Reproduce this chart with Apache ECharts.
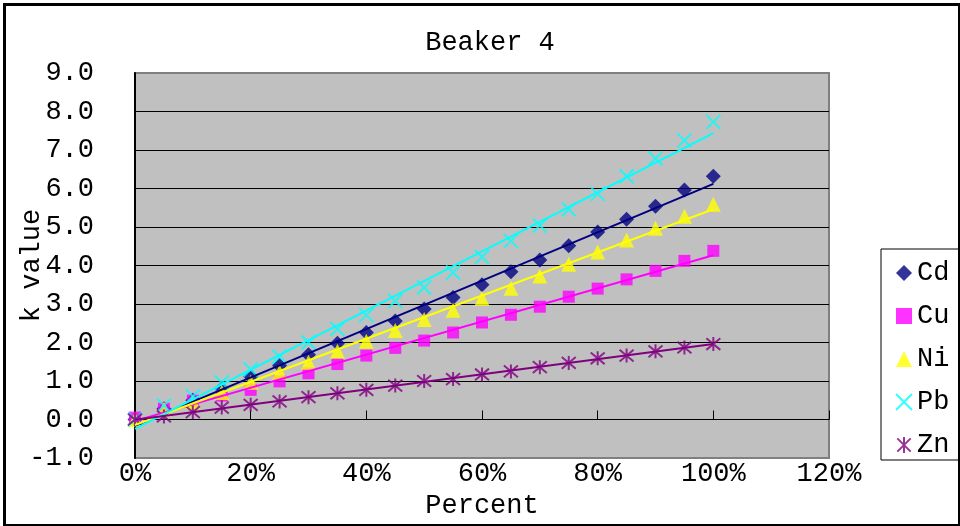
<!DOCTYPE html>
<html>
<head>
<meta charset="utf-8">
<script src="https://cdn.jsdelivr.net/npm/echarts@6/dist/echarts.min.js"></script>
<style>html,body{margin:0;padding:0;background:#fff;}#chart{width:960px;height:526px;}</style>
</head>
<body>
<div id="chart"></div>
<script>
// Data (x in fraction of 100%)
const percents = [0,0.05,0.10,0.15,0.20,0.25,0.30,0.35,0.40,0.45,0.50,0.55,0.60,0.65,0.70,0.75,0.80,0.85,0.90,0.95,1.00];
const cd = [0,0.28,0.50,0.80,1.12,1.40,1.68,1.98,2.26,2.56,2.87,3.17,3.50,3.84,4.14,4.51,4.87,5.20,5.54,5.96,6.32];
const cu = [0.05,0.28,0.49,0.62,0.77,0.99,1.20,1.44,1.66,1.86,2.05,2.26,2.52,2.72,2.93,3.19,3.40,3.64,3.86,4.12,4.38];
const ni = [0,0.27,0.46,0.70,0.97,1.23,1.49,1.77,2.03,2.31,2.60,2.84,3.15,3.41,3.73,4.03,4.35,4.66,4.97,5.28,5.59];
const pb = [0,0.36,0.60,0.96,1.30,1.63,2.00,2.35,2.71,3.08,3.43,3.82,4.22,4.64,5.04,5.46,5.86,6.32,6.78,7.25,7.73];
const zn = [0,0.08,0.19,0.31,0.38,0.47,0.58,0.68,0.77,0.88,1.00,1.05,1.17,1.25,1.36,1.47,1.59,1.66,1.77,1.87,1.96];
const seriesNames = ['Cd','Cu','Ni','Pb','Zn'];
const titleText = 'Beaker 4';
const xName = 'Percent';
const yName = 'k value';

const FONT = 'Liberation Mono';
const FS = 27;

function fit(xs, ys) {
  const n = xs.length;
  let sx=0, sy=0, sxx=0, sxy=0;
  for (let i=0;i<n;i++){sx+=xs[i];sy+=ys[i];sxx+=xs[i]*xs[i];sxy+=xs[i]*ys[i];}
  const m = (n*sxy - sx*sy)/(n*sxx - sx*sx);
  const b = (sy - m*sx)/n;
  return [m,b];
}

const XPATH = 'path://M0,0L10,10M10,0L0,10';
const STARPATH = 'path://M0,0L10,10M10,0L0,10M5,-1L5,11';

const defs = [
  {name:'Cd', data:cd, color:'#000080', symbol:'diamond', size:15},
  {name:'Cu', data:cu, color:'#FF00FF', symbol:'rect', size:12},
  {name:'Ni', data:ni, color:'#FFFF00', symbol:'triangle', size:15},
  {name:'Pb', data:pb, color:'#00FFFF', symbol:XPATH, size:14, stroke:true},
  {name:'Zn', data:zn, color:'#800080', symbol:STARPATH, size:14, stroke:true}
];

const series = [];
defs.forEach(d => {
  series.push({
    name: d.name,
    type: 'scatter',
    symbol: d.symbol,
    symbolSize: d.size,
    data: percents.map((p,i)=>[p, d.data[i]]),
    itemStyle: d.stroke ? {color:'rgba(0,0,0,0)', borderColor:d.color, borderWidth:2} : {color:d.color},
    z: 2
  });
});
defs.forEach(d => {
  const [m,b] = fit(percents, d.data);
  series.push({
    name: d.name + ' trend',
    type: 'line',
    data: [[0, b], [1, m + b]],
    symbol: 'none',
    lineStyle: {color: d.color, width: 2},
    silent: true,
    z: 3
  });
});

const chart = echarts.init(document.getElementById('chart'));
chart.setOption({
  animation: false,
  backgroundColor: '#fff',
  title: {
    text: titleText, left: 485, top: 24, textAlign: 'center',
    textStyle: {fontFamily: FONT, fontSize: FS, fontWeight: 'normal', color: '#000'}
  },
  grid: {left: 135, right: 131, top: 73, bottom: 68, show: true, backgroundColor: '#C0C0C0', borderColor: '#808080', borderWidth: 2, outerBoundsMode: 'none', containLabel: false},
  legend: {
    data: seriesNames, orient: 'vertical', left: 881, top: 249,
    backgroundColor: '#fff', borderColor: '#000', borderWidth: 1,
    padding: [9, 10, 0, 14], itemGap: 13, itemWidth: 16, itemHeight: 16,
    textStyle: {fontFamily: FONT, fontSize: FS, color: '#000', lineHeight: 30}
  },
  xAxis: [
    {
      type: 'value', min: 0, max: 1.2, interval: 0.2, position: 'bottom',
      name: xName, nameLocation: 'middle', nameGap: 34, nameMoveOverlap: false,
      nameTextStyle: {fontFamily: FONT, fontSize: FS, color: '#000'},
      axisLine: {show: false, onZero: false}, axisTick: {show: false},
      axisLabel: {fontFamily: FONT, fontSize: FS, color: '#000', margin: 2, formatter: v => Math.round(v*100) + '%'},
      splitLine: {show: false}
    },
    {
      type: 'value', min: 0, max: 1.2, interval: 0.2, position: 'bottom',
      axisLine: {show: true, onZero: true, lineStyle: {color: '#000', width: 1}},
      axisTick: {show: true, inside: true, length: 9, lineStyle: {color: '#000'}},
      axisLabel: {show: false}, splitLine: {show: false}
    }
  ],
  yAxis: {
    type: 'value', min: -1, max: 9, interval: 1,
    name: yName, nameLocation: 'middle', nameGap: 90, nameRotate: 90, nameMoveOverlap: false,
    nameTextStyle: {fontFamily: FONT, fontSize: FS, color: '#000'},
    axisLine: {show: true, lineStyle: {color: '#000', width: 2}},
    axisTick: {show: false},
    axisLabel: {fontFamily: FONT, fontSize: FS, color: '#000', margin: 41, formatter: v => v.toFixed(1)},
    splitLine: {show: true, showMinLine: false, showMaxLine: false, lineStyle: {color: '#000', width: 1}}
  },
  graphic: [{
    type: 'rect', left: 2, top: 2, shape: {x: 0, y: 0, width: 955, height: 521},
    style: {fill: 'none', stroke: '#000', lineWidth: 3}, silent: true, z: 100
  }],
  series: series
});
</script>
</body>
</html>
